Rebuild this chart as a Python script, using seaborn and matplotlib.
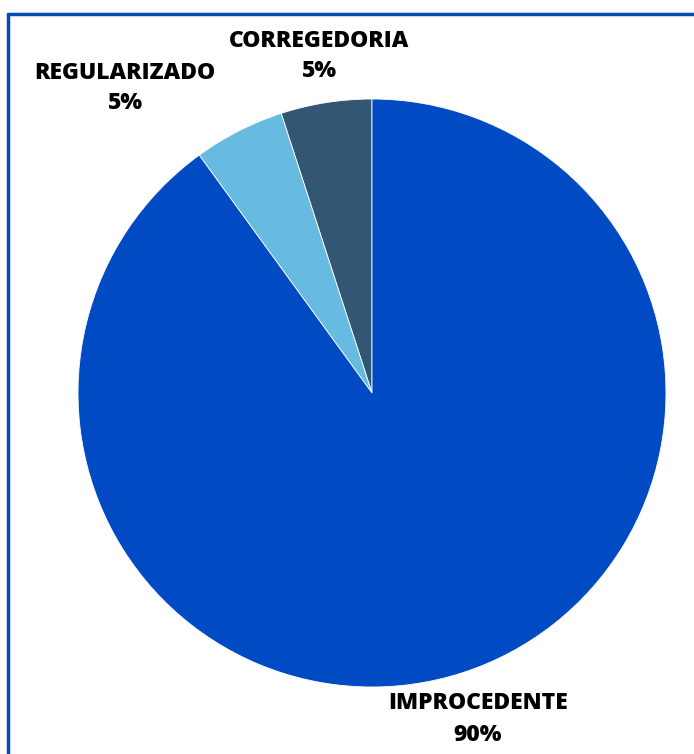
import matplotlib
matplotlib.use("Agg")
import matplotlib.pyplot as plt
import seaborn as sns
from matplotlib.lines import Line2D

categories = ["CORREGEDORIA", "REGULARIZADO", "IMPROCEDENTE"]
values = [5, 5, 90]
pct_labels = ["5%", "5%", "90%"]
colors = ["#335672", "#67BBE0", "#004BC4"]

sns.set_theme(style="white")
plt.rcParams['font.family'] = ['Open Sans', 'DejaVu Sans']

W, H = 694, 754
fig = plt.figure(figsize=(W / 100, H / 100), dpi=100)
ax = fig.add_axes([0, 0, 1, 1])

cx, cy, r = 372, H - 393, 294
ax.pie(values, colors=colors, startangle=90, counterclock=True,
       center=(cx, cy), radius=r,
       wedgeprops=dict(edgecolor="white", linewidth=0.6))
ax.set_xlim(0, W)
ax.set_ylim(0, H)
ax.set_aspect("equal")
ax.axis("off")

label_pos = [(319, 41, 71), (125, 73, 103), (478, 703, 735)]
for cat, pct, (x, y1, y2) in zip(categories, pct_labels, label_pos):
    ax.text(x, H - y1, cat, ha="center", va="center", fontsize=16.5,
            fontweight="heavy", color="black")
    ax.text(x, H - y2, pct, ha="center", va="center", fontsize=16.5,
            fontweight="heavy", color="black")

border = "#0648B8"
fig.add_artist(Line2D([8 / W, 8 / W], [0, 1 - 14 / H], color=border, lw=2.5,
                      transform=fig.transFigure))
fig.add_artist(Line2D([8 / W, 1], [1 - 14 / H, 1 - 14 / H], color=border, lw=2.5,
                      transform=fig.transFigure))

fig.savefig("out.png", dpi=100)
